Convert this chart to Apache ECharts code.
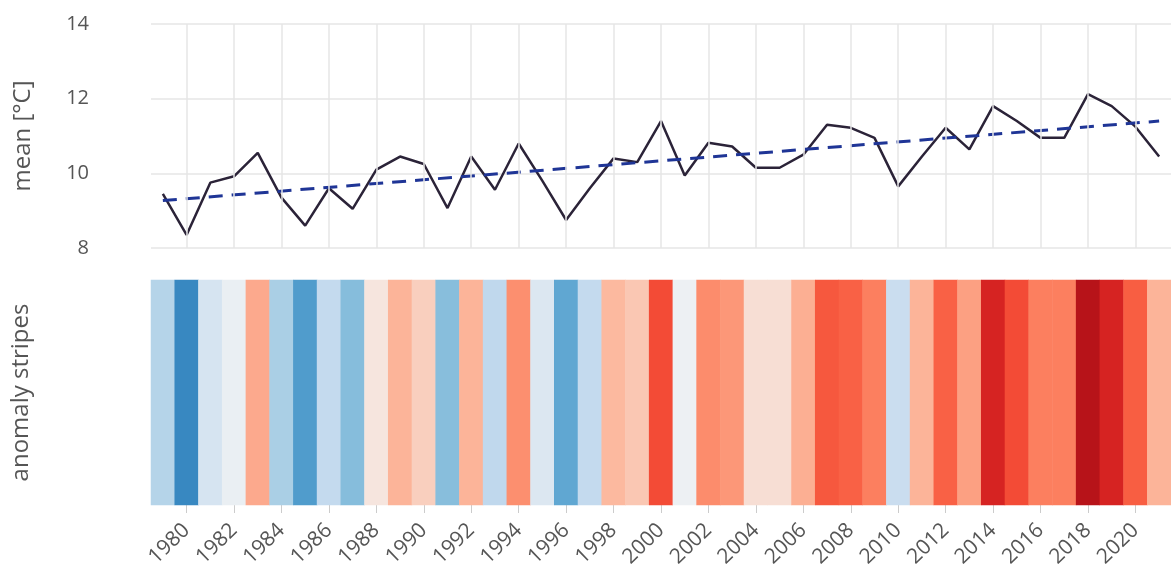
<!DOCTYPE html>
<html>
<head>
<meta charset="utf-8">
<script src="https://cdn.jsdelivr.net/npm/echarts@6/dist/echarts.min.js"></script>
<style>
  html, body { margin: 0; background: #fff; }
  #chart { width: 1171px; height: 576px; }
</style>
</head>
<body>
<div id="chart"></div>
<script>
const years = ['1979', '1980', '1981', '1982', '1983', '1984', '1985', '1986', '1987', '1988',
  '1989', '1990', '1991', '1992', '1993', '1994', '1995', '1996', '1997', '1998',
  '1999', '2000', '2001', '2002', '2003', '2004', '2005', '2006', '2007', '2008',
  '2009', '2010', '2011', '2012', '2013', '2014', '2015', '2016', '2017', '2018',
  '2019', '2020', '2021']
const meanTemp = [9.45, 8.35, 9.75, 9.92, 10.55, 9.35, 8.6, 9.6, 9.05, 10.1,
  10.45, 10.25, 9.07, 10.45, 9.56, 10.8, 9.8, 8.75, 9.6, 10.4,
  10.3, 11.4, 9.94, 10.82, 10.72, 10.15, 10.15, 10.5, 11.3, 11.22,
  10.95, 9.65, 10.45, 11.22, 10.64, 11.8, 11.4, 10.95, 10.95, 12.12,
  11.8, 11.25, 10.45]
// dashed trend line: value at first and last year
const trendEnds = [9.27, 11.4]
const yTicks = [8, 10, 12, 14]

// blue -> white -> red
const stripeColors = ['#08519c', '#2171b5', '#4292c6', '#6baed6', '#9ecae1', '#c6dbef', '#f4f4f4',
  '#fcbba1', '#fc9272', '#fb6a4a', '#ef3b2c', '#cb181d', '#a50f15']

const textColor = '#555'
const gridColor = '#e6e6e6'
const last = years.length - 1
const evenYear = (idx, val) => Number(val) % 2 === 0

const chart = echarts.init(document.getElementById('chart'))
chart.setOption({
  animation: false,
  textStyle: { fontFamily: 'Open Sans' },
  grid: [
    { left: 151, width: 1021, top: 24, height: 224 },
    { left: 151, width: 1021, top: 280, height: 225 }
  ],
  xAxis: [{
    gridIndex: 0,
    type: 'category',
    data: years,
    axisLine: { show: false },
    axisTick: { show: false },
    axisLabel: { show: false },
    splitLine: { show: false }
  }, {
    gridIndex: 1,
    type: 'category',
    data: years,
    axisLine: { show: false },
    axisTick: {
      show: true,
      alignWithLabel: true,
      interval: evenYear,
      length: 8,
      lineStyle: { color: '#cccccc' }
    },
    axisLabel: {
      interval: evenYear,
      rotate: 44,
      margin: 22,
      fontSize: 21,
      color: textColor
    }
  }],
  yAxis: [{
    gridIndex: 0,
    type: 'value',
    min: yTicks[0],
    max: yTicks[yTicks.length - 1],
    interval: yTicks[1] - yTicks[0],
    name: 'mean [°C]',
    nameLocation: 'middle',
    nameRotate: 90,
    nameGap: 116,
    nameTextStyle: { fontSize: 24, color: textColor },
    axisLine: { show: false },
    axisTick: { show: false },
    axisLabel: { margin: 62, fontSize: 20, color: textColor },
    splitLine: { lineStyle: { color: gridColor, width: 1.5 } }
  }, {
    gridIndex: 1,
    type: 'category',
    data: ['anomaly'],
    name: 'anomaly stripes',
    nameLocation: 'middle',
    nameRotate: 90,
    nameGap: 118,
    nameTextStyle: { fontSize: 24, color: textColor },
    axisLine: { show: false },
    axisTick: { show: false },
    axisLabel: { show: false },
    splitLine: { show: false }
  }],
  visualMap: {
    show: false,
    seriesIndex: 3,
    dimension: 2,
    min: 7.7,
    max: 12.3,
    inRange: { color: stripeColors }
  },
  series: [{
    // vertical grid lines on the labelled years
    type: 'line',
    xAxisIndex: 0,
    yAxisIndex: 0,
    data: [],
    silent: true,
    z: 1,
    markLine: {
      silent: true,
      symbol: ['none', 'none'],
      label: { show: false },
      lineStyle: { color: gridColor, type: 'solid', width: 1.5 },
      data: years.map((y, i) => ({ xAxis: i, year: y })).filter(d => Number(d.year) % 2 === 0).map(d => ({ xAxis: d.xAxis }))
    }
  }, {
    name: 'mean',
    type: 'line',
    xAxisIndex: 0,
    yAxisIndex: 0,
    data: meanTemp,
    symbol: 'none',
    z: 3,
    lineStyle: { color: '#2b2338', width: 2.5 }
  }, {
    name: 'trend',
    type: 'line',
    xAxisIndex: 0,
    yAxisIndex: 0,
    data: [[0, trendEnds[0]], [last, trendEnds[1]]],
    symbol: 'none',
    z: 4,
    lineStyle: { color: '#1f3596', width: 3, type: [14, 9] }
  }, {
    name: 'stripes',
    type: 'heatmap',
    xAxisIndex: 1,
    yAxisIndex: 1,
    data: meanTemp.map((v, i) => [i, 0, v])
  }]
})
</script>
</body>
</html>
